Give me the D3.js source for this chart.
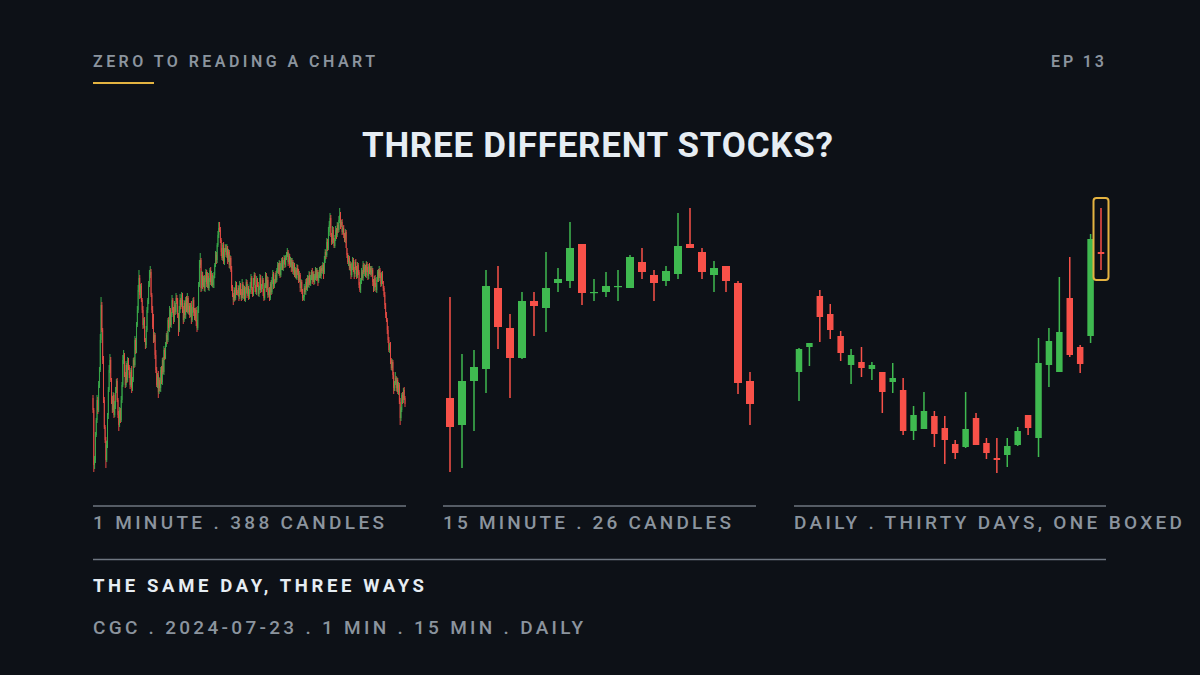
<!DOCTYPE html>
<html>
<head>
<meta charset="utf-8">
<script src="https://cdn.jsdelivr.net/npm/d3@7"></script>
<style>
  html, body { margin: 0; padding: 0; background: #0d1117; }
  svg { display: block; }
  text { font-family: Roboto, "Noto Sans", "DejaVu Sans", sans-serif; }
</style>
</head>
<body>
<script>
// ---------------- DATA ----------------
const headerText = "ZERO TO READING A CHART";
const episodeText = "EP 13";
const titleText = "THREE DIFFERENT STOCKS?";
const panelLabels = ["1 MINUTE . 388 CANDLES", "15 MINUTE . 26 CANDLES", "DAILY . THIRTY DAYS, ONE BOXED"];
const footTitle = "THE SAME DAY, THREE WAYS";
const footSub = "CGC . 2024-07-23 . 1 MIN . 15 MIN . DAILY";

// 1-minute candles (388), prices in cents; open = previous close
const m1FirstOpenCents = 602;
const m1CloseCents = [
  590,535,540,565,580,600,590,615,630,660,695,670,640,600,573,
  560,540,555,585,610,630,640,620,600,590,605,585,595,610,619,
  600,585,575,590,580,600,615,640,645,625,615,635,620,640,633,
  625,615,630,612,620,640,635,660,650,675,690,710,722,705,714,
  700,690,675,680,660,655,670,690,700,715,725,728,705,690,673,
  660,665,645,630,615,625,608,620,612,630,618,640,628,650,642,
  655,665,660,680,672,690,675,685,700,690,680,695,688,702,699,
  685,670,690,700,695,705,690,680,697,685,700,690,702,688,694,
  685,695,680,690,700,688,682,690,678,672,690,715,735,740,712,
  725,715,722,712,720,728,716,724,712,720,730,718,725,715,721,
  725,735,745,740,755,765,772,770,760,748,742,755,738,750,752,
  745,752,740,748,735,742,730,712,705,700,710,702,715,708,707,
  712,703,715,708,702,716,705,712,700,710,718,706,712,703,708,
  715,722,710,706,718,725,712,708,720,715,706,712,722,710,714,
  720,708,702,715,725,712,720,705,710,702,716,708,720,726,714,
  718,725,720,730,735,728,737,725,733,740,732,738,742,735,743,
  745,748,738,744,735,740,732,738,728,735,725,730,722,732,728,
  720,725,712,718,708,702,703,712,708,718,712,722,715,725,717,
  722,728,720,726,718,724,730,722,728,719,725,731,724,732,729,
  735,728,740,748,745,758,752,768,775,782,765,758,770,760,754,
  762,770,765,775,770,780,785,775,778,768,772,765,760,768,752,
  745,738,742,732,736,725,733,740,730,726,738,732,724,735,728,
  715,710,720,728,722,735,728,733,725,736,730,724,734,728,732,
  726,730,718,712,722,715,710,720,728,722,730,724,716,726,719,
  712,705,695,685,680,670,660,650,655,640,632,638,625,612,617,
  622,612,620,608,615,598,582,590,605,600,610,602,596
];
// upper wick above max(open, close), cents
const m1UpperWick = [
  3,2,4,3,2,5,3,4,3,6,8,3,2,4,3,
  2,3,4,2,3,5,6,3,2,4,3,2,4,3,2,
  3,2,4,3,2,4,3,5,5,2,3,4,2,3,2,
  2,3,2,4,3,2,3,4,2,3,4,5,8,3,2,
  3,2,4,2,3,2,4,3,2,4,5,6,3,2,4,
  13,3,2,5,3,2,4,3,2,3,4,2,3,4,2,
  3,2,4,2,3,4,2,3,5,2,3,4,2,5,3,
  3,2,4,6,2,3,2,4,3,2,3,4,5,2,3,
  3,2,4,3,2,3,4,2,3,2,4,3,5,7,2,
  4,3,2,3,4,3,2,4,3,2,2,3,4,2,3,
  3,2,4,3,2,4,6,6,3,2,4,2,3,2,4,
  3,4,2,3,2,3,2,4,3,2,3,2,4,3,2,
  3,2,4,2,3,5,2,3,2,3,3,2,4,2,3,
  3,4,2,3,4,3,2,3,4,2,3,2,4,3,2,
  4,2,3,2,3,2,4,3,2,3,2,4,3,4,2,
  3,2,4,2,3,2,3,2,4,2,3,2,3,2,2,
  3,4,2,3,2,3,2,4,2,3,2,3,2,4,3,
  3,4,2,3,2,3,2,4,2,3,4,3,2,4,3,
  3,2,4,2,3,2,3,2,4,2,3,2,3,2,3,
  3,2,4,3,2,4,3,5,4,5,3,2,4,3,2,
  3,4,2,3,2,4,7,3,2,3,2,3,2,3,2,
  0,2,3,2,3,2,4,3,2,3,2,3,2,3,2,
  2,3,2,4,2,4,2,3,2,3,2,3,2,3,2,
  2,4,2,3,2,3,2,3,2,3,4,2,3,2,3,
  0,2,3,2,3,2,4,3,2,3,2,3,2,3,2,
  6,2,3,2,3,2,4,3,2,3,2,3,2
];
// lower wick below min(open, close), cents
const m1LowerWick = [
  3,7,4,3,2,3,4,2,3,2,3,2,4,3,2,
  3,8,2,3,4,2,3,2,4,3,2,3,2,4,3,
  2,3,6,2,3,2,3,2,4,2,3,2,3,2,3,
  3,4,2,5,3,2,3,2,4,3,2,3,2,4,3,
  2,3,4,3,2,4,3,2,3,4,2,3,2,3,2,
  3,2,4,3,2,3,6,2,3,4,2,3,2,3,2,
  1,2,4,2,3,4,2,3,2,3,4,2,3,2,3,
  3,6,2,3,4,2,3,4,2,3,4,2,3,2,3,
  3,2,4,2,3,4,2,3,4,4,2,3,2,3,4,
  3,4,2,3,4,2,3,4,2,3,2,3,4,2,3,
  9,3,2,4,3,2,3,2,3,4,2,3,2,3,2,
  2,3,4,2,3,4,2,3,2,5,2,3,2,3,2,
  3,4,2,3,3,2,3,4,1,2,3,4,2,3,2,
  2,3,4,3,2,3,4,2,3,2,2,3,2,3,2,
  3,4,3,2,3,4,2,3,2,3,2,3,2,4,3,
  2,2,3,2,3,2,4,3,2,3,2,3,2,3,2,
  3,2,4,2,3,2,4,3,2,3,2,3,1,2,3,
  3,2,4,3,2,3,2,4,2,3,2,3,2,3,2,
  3,2,4,2,3,2,4,3,2,5,2,3,2,3,2,
  3,7,2,3,4,2,3,2,4,3,2,3,2,3,2,
  2,3,4,2,3,2,3,4,2,3,2,3,2,3,0,
  3,2,4,2,3,4,2,3,2,5,3,2,3,2,3,
  3,2,3,4,2,3,2,4,2,3,2,4,3,2,3,
  3,2,4,4,3,2,2,3,2,4,3,2,3,2,3,
  3,2,4,3,2,4,3,2,3,4,2,3,4,6,3,
  2,3,4,2,3,2,7,3,2,4,3,2,3
];

// 15-minute candles (26), dollars
const m15Open  = [6.02,5.75,6.19,6.31,7.12,6.72,6.42,6.99,6.92,7.17,7.19,7.56,7.07,7.08,7.13,7.12,7.38,7.25,7.19,7.26,7.56,7.48,7.25,7.34,7.17,6.19];
const m15High  = [7.03,6.46,6.50,7.30,7.34,6.86,7.08,7.08,7.48,7.32,7.78,7.56,7.21,7.28,7.30,7.45,7.52,7.30,7.34,7.87,7.92,7.52,7.39,7.34,7.19,6.28];
const m15Low   = [5.28,5.32,5.69,6.07,6.51,6.02,6.41,6.64,6.68,7.08,7.12,6.95,6.99,7.03,6.99,7.12,7.21,6.99,7.14,7.21,7.52,7.21,7.08,7.08,6.06,5.75];
const m15Close = [5.73,6.19,6.33,7.14,6.73,6.42,6.99,6.94,7.12,7.21,7.52,7.07,7.08,7.14,7.14,7.43,7.28,7.17,7.29,7.54,7.52,7.28,7.32,7.19,6.17,5.96];

// Daily candles (30), dollars; last one is boxed
const dOpen  = [6.28,6.53,7.04,6.86,6.64,6.35,6.38,6.31,6.28,6.18,6.10,5.69,5.71,5.84,5.72,5.56,5.53,5.82,5.57,5.42,5.45,5.55,5.85,5.62,6.35,6.28,7.02,6.53,6.64,7.48];
const dHigh  = [6.52,6.57,7.10,6.96,6.69,6.51,6.53,6.38,6.28,6.37,6.22,5.94,6.08,5.89,5.84,5.60,6.08,5.87,5.62,5.62,5.62,5.73,5.85,6.62,6.72,7.23,7.43,6.55,7.66,7.92];
const dLow   = [5.99,6.34,6.58,6.61,6.39,6.16,6.23,6.20,5.87,6.07,5.65,5.60,5.71,5.53,5.36,5.41,5.52,5.55,5.41,5.27,5.33,5.54,5.65,5.43,6.13,6.28,6.43,6.27,6.57,7.30];
const dClose = [6.51,6.57,6.83,6.70,6.47,6.45,6.32,6.35,6.08,6.22,5.69,5.85,5.89,5.66,5.60,5.47,5.71,5.55,5.47,5.40,5.54,5.69,5.72,6.37,6.59,6.68,6.45,6.36,7.61,7.46];
const boxedIndex = 29;

// ---------------- STYLE ----------------
const BG = "#0d1117", GREEN = "#3fb950", RED = "#f85149", GOLD = "#e3b341";
const GRAY = "#8b949e", WHITE = "#e6edf3", RULE = "#6e7681";

// ---------------- BUILD ----------------
const m1 = m1CloseCents.map((c, i) => {
  const o = i === 0 ? m1FirstOpenCents : m1CloseCents[i - 1];
  return { i, o: o / 100, c: c / 100,
           h: (Math.max(o, c) + m1UpperWick[i]) / 100,
           l: (Math.min(o, c) - m1LowerWick[i]) / 100 };
});
const m15 = m15Open.map((o, i) => ({ i, o, h: m15High[i], l: m15Low[i], c: m15Close[i] }));
const daily = dOpen.map((o, i) => ({ i, o, h: dHigh[i], l: dLow[i], c: dClose[i] }));

const svg = d3.select("body").append("svg").attr("width", 1200).attr("height", 675);
svg.append("rect").attr("width", 1200).attr("height", 675).attr("fill", BG);

// shared intraday price scale, separate daily scale
const yIntra = d3.scaleLinear().domain([5, 8]).range([500, 200]);
const yDaily = d3.scaleLinear().domain([5, 8]).range([500, 200]);

function drawCandles(data, x, y, bodyW, wickW, opacity) {
  const g = svg.append("g");
  const sel = g.selectAll("g").data(data).join("g")
    .attr("fill", d => d.c >= d.o ? GREEN : RED)
    .attr("stroke", d => d.c >= d.o ? GREEN : RED)
    .attr("opacity", opacity);
  sel.append("line")
    .attr("x1", d => x(d.i)).attr("x2", d => x(d.i))
    .attr("y1", d => y(d.h)).attr("y2", d => y(d.l))
    .attr("stroke-width", wickW);
  sel.append("rect")
    .attr("stroke", "none")
    .attr("x", d => x(d.i) - bodyW / 2)
    .attr("width", bodyW)
    .attr("y", d => y(Math.max(d.o, d.c)))
    .attr("height", d => Math.max(1.2, Math.abs(y(d.o) - y(d.c))));
  return g;
}

const x1 = d3.scalePoint().domain(m1.map(d => d.i)).range([93, 405]);
const x2 = d3.scalePoint().domain(m15.map(d => d.i)).range([450, 750]);
const x3 = d3.scalePoint().domain(daily.map(d => d.i)).range([799, 1101]);

drawCandles(m1, x1, yIntra, 0.8, 1, 0.9);
drawCandles(m15, x2, yIntra, 8, 1.5, 1);
drawCandles(daily, x3, yDaily, 6.5, 1.5, 1);

// box around last daily candle
const bx = daily[boxedIndex];
svg.append("rect")
  .attr("x", x3(bx.i) - 7.5).attr("width", 15)
  .attr("y", yDaily(bx.h) - 10)
  .attr("height", yDaily(bx.l) - yDaily(bx.h) + 20)
  .attr("rx", 3)
  .attr("fill", "none").attr("stroke", GOLD).attr("stroke-width", 2);

// rules under panels
[[93, 406], [443, 756], [794, 1106]].forEach(([a, b]) => {
  svg.append("line").attr("x1", a).attr("x2", b).attr("y1", 506).attr("y2", 506)
    .attr("stroke", RULE).attr("stroke-width", 1.5);
});
svg.append("line").attr("x1", 93).attr("x2", 1106).attr("y1", 559.5).attr("y2", 559.5)
  .attr("stroke", RULE).attr("stroke-width", 1.5);

function label(txt, x, y, size, weight, fill, len) {
  svg.append("text").attr("x", x).attr("y", y)
    .attr("font-size", size).attr("font-weight", weight).attr("fill", fill)
    .attr("textLength", len).attr("lengthAdjust", "spacing")
    .text(txt);
}

// header
label(headerText, 93, 66.5, 16, 600, GRAY, 282);
svg.append("rect").attr("x", 93).attr("y", 82).attr("width", 61).attr("height", 2).attr("fill", GOLD);
label(episodeText, 1051, 66.5, 16, 600, GRAY, 53);

// title
label(titleText, 362, 156.5, 35, 700, WHITE, 471);

// panel labels
label(panelLabels[0], 93, 529, 19, 500, GRAY, 291);
label(panelLabels[1], 443, 529, 19, 500, GRAY, 288);
label(panelLabels[2], 794, 529, 19, 500, GRAY, 388);

// footer
label(footTitle, 93, 592, 18.5, 700, WHITE, 331);
label(footSub, 93, 634, 19, 500, GRAY, 490);
</script>
</body>
</html>
